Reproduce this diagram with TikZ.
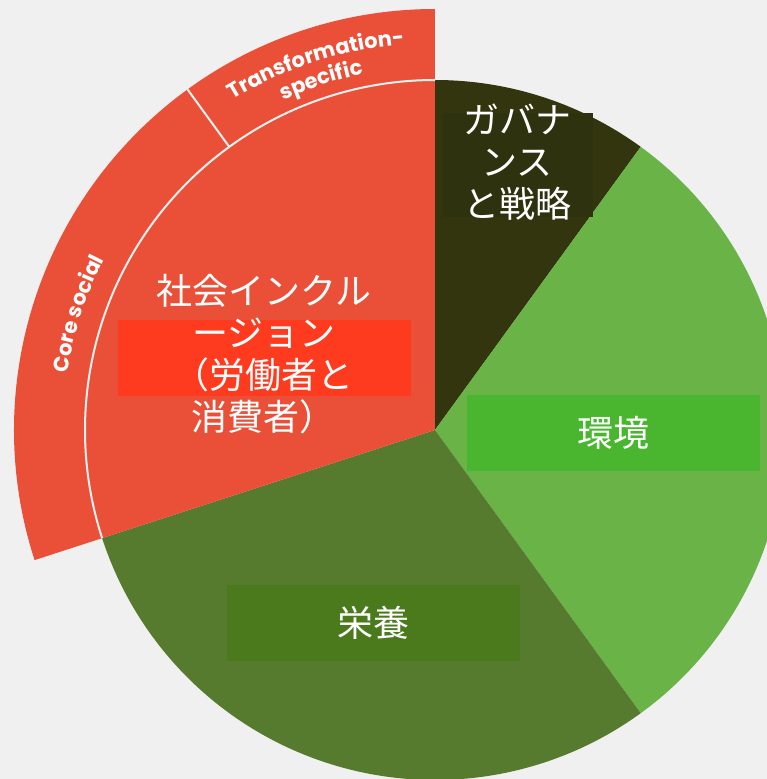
\documentclass[tikz,border=0pt]{standalone}
\usepackage{fontspec}
\setmainfont{Noto Sans CJK JP}
\newfontfamily\ringfont{Poppins}
\usetikzlibrary{decorations.text}
\definecolor{bggray}{HTML}{F0F0F0}
\definecolor{socred}{HTML}{EA5038}
\definecolor{socfill}{HTML}{FF3B1F}
\definecolor{govdark}{HTML}{33350F}
\definecolor{govfill}{HTML}{2F320E}
\definecolor{envgreen}{HTML}{69B347}
\definecolor{envfill}{HTML}{4AB630}
\definecolor{nutgreen}{HTML}{567A2E}
\definecolor{nutfill}{HTML}{4A7A1C}
\begin{document}
\begin{tikzpicture}[x=1pt,y=1pt,
    labelbox/.style={minimum width=293pt,minimum height=76pt,inner sep=0pt},
    jplabel/.style={text=white,font=\fontsize{36}{42}\selectfont,align=center,inner sep=0pt},
    ringtext/.style={decorate,decoration={text along path,text align=center,
        text={|\ringfont\bfseries\fontsize{21}{21}\selectfont\color{white}|#1}}}]
    \useasboundingbox (-435,-349) rectangle (332,430);
    \clip (-435,-349) rectangle (332,430);
    \fill[bggray] (-435,-349) rectangle (332,430);
    % pie
    \fill[govdark] (0,0) -- (90:350) arc[start angle=90,end angle=54,radius=350] -- cycle;
    \fill[envgreen] (0,0) -- (54:350) arc[start angle=54,end angle=-54,radius=350] -- cycle;
    \fill[nutgreen] (0,0) -- (-54:350) arc[start angle=-54,end angle=-162,radius=350] -- cycle;
    \fill[socred] (0,0) -- (198:350) arc[start angle=198,end angle=90,radius=350] -- cycle;
    % outer ring
    \fill[socred] (90:350) arc[start angle=90,end angle=198,radius=350]
        -- (198:421) arc[start angle=198,end angle=90,radius=421] -- cycle;
    \draw[bggray,line width=2pt] (90:350) arc[start angle=90,end angle=198,radius=350];
    \draw[bggray,line width=2pt] (126:350) -- (126:421);
    \path[ringtext={Transformation-}] (126:387) arc[start angle=126,end angle=90,radius=387];
    \path[ringtext={specific}] (126:363) arc[start angle=126,end angle=90,radius=363];
    \path[ringtext={Core social}] (198:372) arc[start angle=198,end angle=126,radius=372];
    % labels
    \node(govbox)[fill=govfill,minimum width=150pt,minimum height=104pt,inner sep=0pt] at (83,265){};
    \node(gov)[jplabel] at (82,268){ガバナ\\ンス\\と戦略};
    \node(socbox)[labelbox,fill=socfill] at (-170.5,72){};
    \node(soc)[jplabel] at (-171,75.5){社会インクル\\ージョン\\（労働者と\\消費者）};
    \node(env)[labelbox,fill=envfill,jplabel] at (178.5,-3){環境};
    \node(nut)[labelbox,fill=nutfill,jplabel] at (-61.5,-193){栄養};
\end{tikzpicture}
\end{document}
